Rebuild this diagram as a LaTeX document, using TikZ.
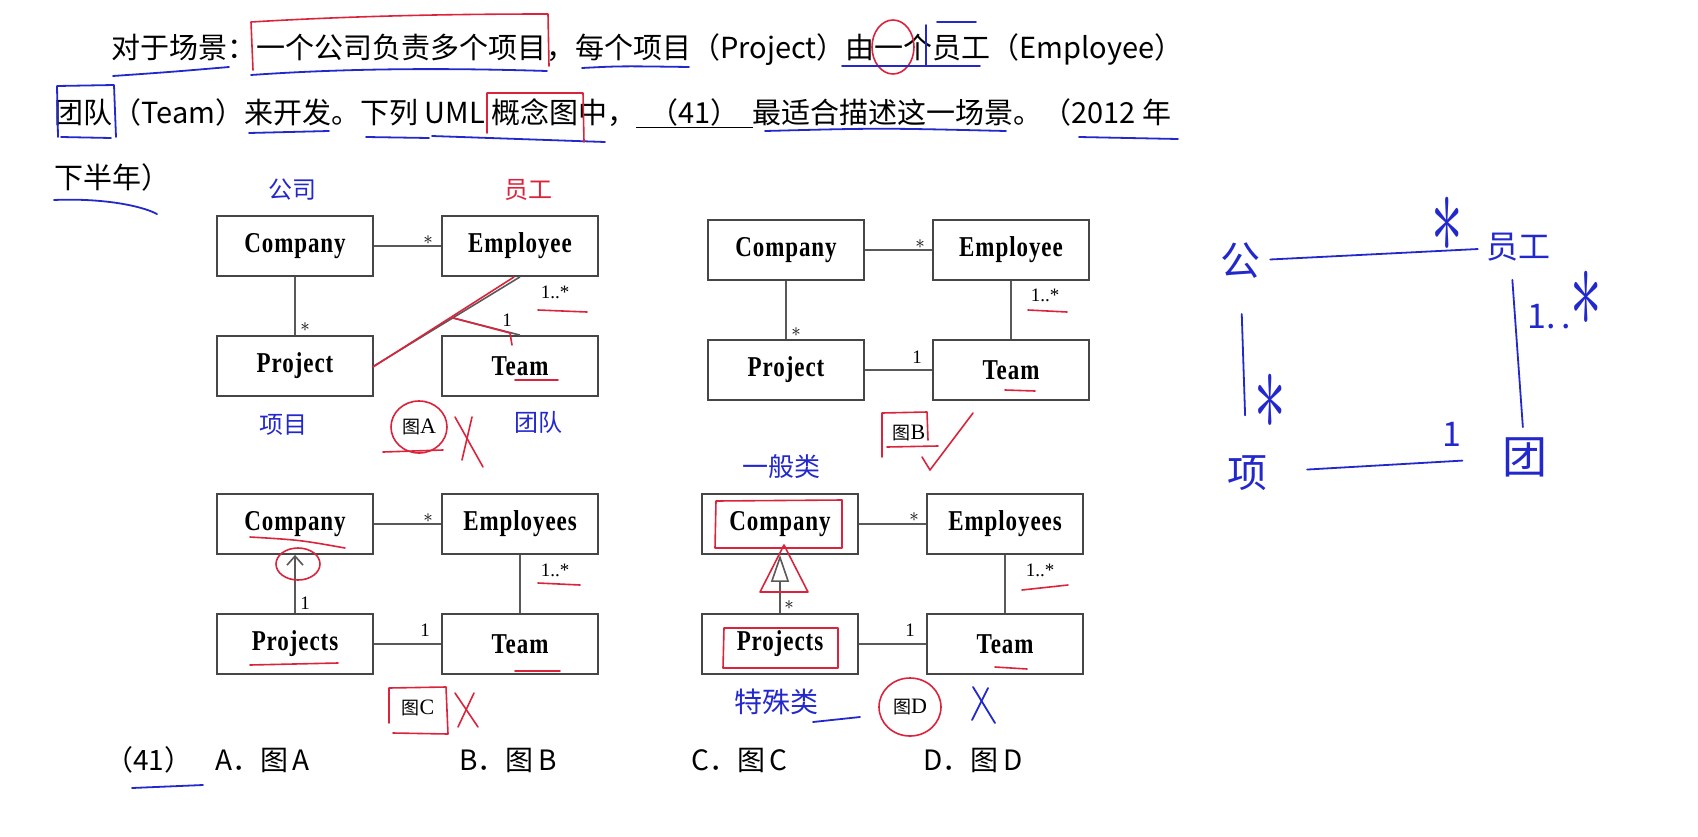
\documentclass[tikz,border=0pt]{standalone}
\usepackage{fix-cm}
\usepackage{fontspec}
\usepackage{graphicx}
\setmainfont{Liberation Serif}
\newfontfamily\cjk{Noto Sans CJK SC}
\newfontfamily\clsfont[LetterSpace=4]{Liberation Serif}
\usetikzlibrary{arrows.meta}

\definecolor{penblue}{RGB}{35,40,205}
\definecolor{penred}{RGB}{220,35,60}
\definecolor{boxgray}{RGB}{70,70,70}

% 类名稍微拉高
\newcommand{\cname}[1]{\scalebox{1}[1.25]{#1}}
% 手写的星号，细长
\newcommand{\handstar}{\scalebox{0.9}[1.7]{$\ast$}}

\tikzset{
  cls/.style={draw=boxgray, line width=1.8pt, minimum width=156pt, minimum height=60pt,
    inner sep=0pt, font=\clsfont\bfseries\fontsize{23}{23}\selectfont},
  assoc/.style={draw=boxgray!90, line width=1.6pt},
  mult/.style={font=\fontsize{19}{19}\selectfont, inner sep=0pt},
  figlabel/.style={font=\fontsize{22}{22}\selectfont, inner sep=0pt},
  question/.style={font=\cjk\fontsize{29}{29}\selectfont, inner sep=0pt, anchor=west},
  option/.style={font=\cjk\fontsize{28}{28}\selectfont, inner sep=0pt, anchor=west},
  bluepen/.style={draw=penblue, line width=1.8pt, line cap=round, line join=round},
  redpen/.style={draw=penred, line width=1.6pt, line cap=round, line join=round},
  bluenote/.style={text=penblue, font=\cjk\fontsize{24}{24}\selectfont, inner sep=0pt},
  rednote/.style={text=penred, font=\cjk\fontsize{24}{24}\selectfont, inner sep=0pt},
}

\begin{document}
\begin{tikzpicture}[x=1pt, y=-1pt]
	\useasboundingbox (0,0) rectangle (1698,836);
	
	% 题干
	\node[question] (q1) at (111,50) {对于场景：一个公司负责多个项目，每个项目（Project）由一个员工（Employee）};
	\node[question] (q2) at (54,113) {团队（Team）来开发。下列 UML 概念图中，\underline{\hspace{0.45em}（41）\hspace{0.45em}}最适合描述这一场景。（2012 年};
	\node[question] (q3) at (54,177) {下半年）};
	
	% 四个类图，布局相同
	\foreach \p/\dx/\dy/\emp/\prj in {a/0/0/Employee/Project, b/491/4/Employee/Project,
		c/0/278/Employees/Projects, d/485/278/Employees/Projects} {
		\node[cls] (\p-comp) at (295+\dx,246+\dy) {\cname{Company}};
		\node[cls] (\p-emp)  at (520+\dx,246+\dy) {\cname{\emp}};
		\node[cls] (\p-proj) at (295+\dx,366+\dy) {\cname{\prj}};
		\node[cls] (\p-team) at (520+\dx,366+\dy) {\cname{Team}};
	}
	
	% 图A
	\draw[assoc] (a-comp) -- (a-emp);
	\draw[assoc] (a-comp) -- (a-proj);
	\draw[assoc] (a-emp.south) -- coordinate[pos=0.46] (a-mid) (a-proj.east);
	\draw[assoc] (a-mid) -- (a-team.north);
	\node[mult] (a-m1) at (428,240) {$\ast$};
	\node[mult] (a-m2) at (305,327) {$\ast$};
	\node[mult] (a-m3) at (555,292) {1..*};
	\node[mult] (a-m4) at (507,320) {1};
	\node[figlabel] (a-fig) at (419,427) {{\cjk\fontsize{18}{18}\selectfont 图}A};
	
	% 图B
	\draw[assoc] (b-comp) -- (b-emp);
	\draw[assoc] (b-comp) -- (b-proj);
	\draw[assoc] (b-emp) -- (b-team);
	\draw[assoc] (b-proj) -- (b-team);
	\node[mult] (b-m1) at (920,244) {$\ast$};
	\node[mult] (b-m2) at (796,332) {$\ast$};
	\node[mult] (b-m3) at (1045,295) {1..*};
	\node[mult] (b-m4) at (917,357) {1};
	\node[figlabel] (b-fig) at (909,433) {{\cjk\fontsize{18}{18}\selectfont 图}B};
	
	% 图C
	\draw[assoc] (c-comp) -- (c-emp);
	\draw[assoc, -{Straight Barb[length=9pt,width=16pt]}] (c-proj) -- (c-comp);
	\draw[assoc] (c-emp) -- (c-team);
	\draw[assoc] (c-proj) -- (c-team);
	\node[mult] (c-m1) at (428,518) {$\ast$};
	\node[mult] (c-m2) at (305,603) {1};
	\node[mult] (c-m3) at (555,570) {1..*};
	\node[mult] (c-m4) at (425,630) {1};
	\node[figlabel] (c-fig) at (418,708) {{\cjk\fontsize{18}{18}\selectfont 图}C};
	
	% 图D
	\draw[assoc] (d-comp) -- (d-emp);
	\draw[assoc, -{Triangle[open, length=27pt, width=18pt]}] (d-proj) -- (d-comp);
	\draw[assoc] (d-emp) -- (d-team);
	\draw[assoc] (d-proj) -- (d-team);
	\node[mult] (d-m1) at (914,517) {$\ast$};
	\node[mult] (d-m2) at (789,605) {$\ast$};
	\node[mult] (d-m3) at (1040,570) {1..*};
	\node[mult] (d-m4) at (910,630) {1};
	\node[figlabel] (d-fig) at (910,707) {{\cjk\fontsize{18}{18}\selectfont 图}D};
	
	% 选项
	\node[option] (o0) at (105,760) {（41）};
	\foreach \l/\x in {A/215,B/459,C/691,D/923}
		\node[option] (o\l) at (\x,760) {\l．图\,\l};
	
	% 手写：题干上的划线
	\draw[bluepen] (113,76) .. controls (170,72) .. (229,67);
	\draw[redpen] (253,70) -- (251,22) .. controls (350,16) and (450,14) .. (548,14) -- (549,66);
	\draw[bluepen] (251,75) .. controls (350,68) and (450,68) .. (547,71);
	\draw[bluepen] (582,68) .. controls (620,66) .. (689,67);
	\draw[redpen] (893,47) ellipse [x radius=21, y radius=27];
	\draw[bluepen] (842,66) -- (980,66);
	\draw[bluepen] (926,25) -- (926,65);
	\draw[bluepen] (937,22) -- (976,22);
	\draw[bluepen] (58,137) -- (57,86) -- (114,85) -- (116,137);
	\draw[bluepen] (61,137) -- (111,138);
	\draw[bluepen] (249,133) -- (329,131);
	\draw[bluepen] (366,137) -- (429,138);
	\draw[bluepen] (432,136) -- (605,142);
	\draw[redpen] (487,133) -- (487,93) -- (583,93) -- (584,142);
	\draw[bluepen] (765,131) .. controls (880,128) .. (1006,131);
	\draw[bluepen] (1079,137) -- (1178,139);
	\draw[bluepen] (54,200) .. controls (100,198) and (140,205) .. (157,214);
	\draw[bluepen] (132,788) -- (203,785);
	
	% 手写：图A
	\node[bluenote] (a-n1) at (292,190) {公司};
	\node[rednote]  (a-n2) at (528,190) {员工};
	\node[bluenote] (a-n3) at (283,425) {项目};
	\node[bluenote] (a-n4) at (538,422) {团队};
	\draw[redpen] (514,277) -- (373,367);
	\draw[redpen] (a-mid) -- (510,333) -- (512,345);
	\draw[redpen] (515,380) -- (558,380);
	\draw[redpen] (538,310) -- (587,312);
	\draw[redpen] (a-fig) ellipse [x radius=28, y radius=26];
	\draw[redpen] (383,452) -- (443,450);
	\draw[redpen] (455,417) -- (483,467);
	\draw[redpen] (472,417) -- (462,460);
	
	% 手写：图B
	\draw[redpen] (1028,310) -- (1067,312);
	\draw[redpen] (1005,390) -- (1035,391);
	\draw[redpen] (882,457) -- (882,413) -- (927,412) -- (928,440);
	\draw[redpen] (887,447) -- (938,446);
	\draw[redpen] (922,457) -- (930,470) -- (973,413);
	
	% 手写：图C
	\draw[redpen] (250,537) .. controls (300,540) .. (345,548);
	\draw[redpen] (298,564) ellipse [x radius=22, y radius=16];
	\draw[redpen] (538,583) -- (580,585);
	\draw[redpen] (250,665) -- (338,663);
	\draw[redpen] (515,671) -- (560,671);
	\draw[redpen] (389,723) -- (389,688) -- (446,687) -- (448,734) -- (393,733);
	\draw[redpen] (455,693) -- (478,727);
	\draw[redpen] (474,693) -- (458,727);
	
	% 手写：图D
	\node[bluenote, font=\cjk\fontsize{26}{26}\selectfont] (d-n1) at (781,467) {一般类};
	\node[bluenote, font=\cjk\fontsize{28}{28}\selectfont] (d-n2) at (776,702) {特殊类};
	\draw[bluepen] (813,722) -- (860,717);
	\draw[redpen] (715,548) -- (716,501) -- (842,500) -- (842,548) -- (715,548);
	\draw[redpen] (760,592) -- (784,545) -- (808,592) -- cycle;
	\draw[redpen] (723,668) -- (724,628) -- (838,628) -- (838,668) -- cycle;
	\draw[redpen] (1022,590) -- (1068,585);
	\draw[redpen] (995,667) -- (1027,669);
	\draw[redpen] (d-fig) ellipse [x radius=31, y radius=29];
	\draw[bluepen] (973,687) -- (995,723);
	\draw[bluepen] (988,688) -- (972,720);
	
	% 手写：右边的草图
	\begin{scope}[every node/.style={text=penblue, inner sep=0pt}]
		\node[font=\cjk\fontsize{40}{40}\selectfont] (r-comp) at (1240,261) {公};
		\node[font=\cjk\fontsize{32}{32}\selectfont] (r-emp)  at (1518,247) {员工};
		\node[font=\cjk\fontsize{40}{40}\selectfont] (r-proj) at (1247,473) {项};
		\node[font=\cjk\fontsize{45}{45}\selectfont] (r-team) at (1525,457) {团};
		\node[font=\fontsize{70}{70}\selectfont] (r-m1) at (1447,225) {\handstar};
		\node[font=\fontsize{70}{70}\selectfont] (r-m2) at (1270,402) {\handstar};
		\node[font=\cjk\fontsize{34}{34}\selectfont] (r-m3) at (1565,300)
			{1.\,.\raisebox{2pt}{\fontsize{70}{70}\selectfont\handstar}};
		\node[font=\cjk\fontsize{34}{34}\selectfont] (r-m4) at (1452,434) {1};
	\end{scope}
	\draw[bluepen, shorten <=10pt, shorten >=8pt] (r-comp) -- (r-emp);
	\draw[bluepen, shorten <=35pt, shorten >=40pt] (r-comp) -- (r-proj);
	\draw[bluepen, shorten <=33pt, shorten >=10pt] ([xshift=-8pt]r-emp.center) -- (r-team);
	\draw[bluepen, shorten <=40pt, shorten >=40pt] (r-proj) -- (r-team);
\end{tikzpicture}
\end{document}
